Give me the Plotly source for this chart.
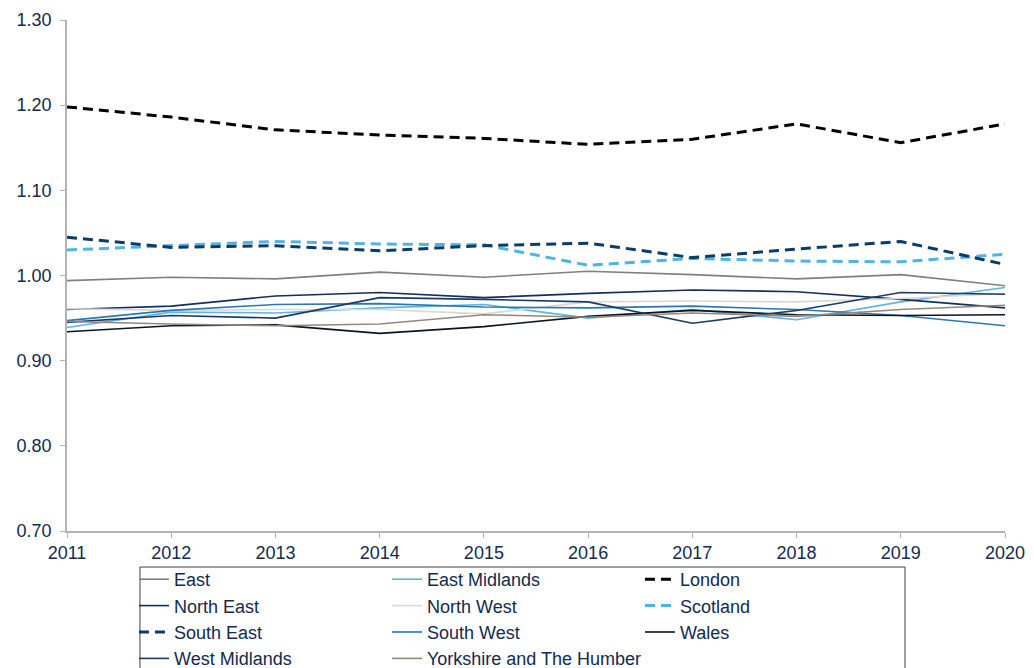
import plotly.graph_objects as go

years = [2011, 2012, 2013, 2014, 2015, 2016, 2017, 2018, 2019, 2020]

east = [0.994, 0.998, 0.996, 1.004, 0.998, 1.005, 1.001, 0.996, 1.001, 0.988]
east_midlands = [0.939, 0.957, 0.956, 0.962, 0.966, 0.950, 0.960, 0.948, 0.969, 0.986]
london = [1.198, 1.186, 1.171, 1.165, 1.161, 1.154, 1.160, 1.178, 1.156, 1.178]
north_east = [0.960, 0.964, 0.976, 0.980, 0.974, 0.979, 0.983, 0.981, 0.972, 0.962]
north_west = [0.961, 0.959, 0.960, 0.960, 0.955, 0.969, 0.970, 0.969, 0.973, 0.979]
scotland = [1.030, 1.035, 1.040, 1.037, 1.036, 1.012, 1.020, 1.017, 1.016, 1.025]
south_east = [1.045, 1.033, 1.035, 1.029, 1.035, 1.038, 1.021, 1.031, 1.040, 1.013]
south_west = [0.947, 0.959, 0.966, 0.967, 0.963, 0.962, 0.964, 0.960, 0.953, 0.941]
wales = [0.934, 0.941, 0.942, 0.932, 0.940, 0.952, 0.959, 0.954, 0.953, 0.954]
west_midlands = [0.945, 0.953, 0.950, 0.974, 0.972, 0.969, 0.944, 0.959, 0.980, 0.978]
yorkshire = [0.946, 0.943, 0.941, 0.943, 0.954, 0.951, 0.956, 0.952, 0.960, 0.965]

series = [
    ("East", east, "#808080", "solid", 1.6),
    ("East Midlands", east_midlands, "#5ab6e6", "solid", 1.6),
    ("London", london, "#000000", "10px,6px", 3),
    ("North East", north_east, "#14305a", "solid", 1.6),
    ("North West", north_west, "#dcd8d3", "solid", 1.6),
    ("Scotland", scotland, "#4fb3e6", "10px,6px", 3),
    ("South East", south_east, "#0b3c68", "10px,6px", 3),
    ("South West", south_west, "#2a78b0", "solid", 1.6),
    ("Wales", wales, "#0a1628", "solid", 1.6),
    ("West Midlands", west_midlands, "#1d3a66", "solid", 1.6),
    ("Yorkshire and The Humber", yorkshire, "#97877b", "solid", 1.6),
]

fig = go.Figure()
for name, vals, color, dash, w in series:
    fig.add_trace(go.Scatter(x=years, y=vals, name=name, mode="lines",
                             line=dict(color=color, dash=dash, width=w)))

txt = "#142b4c"
# page has an 8px body margin; figure is sized to the remaining window
W, H = 1026, 660
left, top, right, bottom = 59, 12, 997, 523
fig.update_layout(
    width=W, height=H,
    margin=dict(l=left, r=W - right, t=top, b=H - bottom, autoexpand=False),
    paper_bgcolor="white", plot_bgcolor="white",
    font=dict(family="Liberation Sans, Arial, sans-serif", size=18, color=txt),
    showlegend=True,
    legend=dict(orientation="h", x=0.0714, xanchor="left", y=-0.0587, yanchor="top",
                entrywidth=208, entrywidthmode="pixels", itemwidth=30,
                borderwidth=0, bgcolor="rgba(0,0,0,0)",
                font=dict(size=18, color=txt), traceorder="normal"),
    shapes=[dict(type="rect", xref="paper", yref="paper",
                 x0=0.0778, x1=0.8934, y0=-0.0705, y1=-0.34,
                 line=dict(color="#404040", width=1), fillcolor="white", layer="below")],
    xaxis=dict(range=[2011, 2020], tickmode="array", tickvals=years,
               ticktext=[str(y) for y in years], showgrid=False, zeroline=False,
               showline=True, linecolor="#b3b3b3", linewidth=1.5,
               ticks="outside", ticklen=5, tickcolor="#b3b3b3",
               tickfont=dict(size=18, color=txt)),
    yaxis=dict(range=[0.70, 1.30], tickmode="linear", tick0=0.7, dtick=0.1,
               tickformat=".2f", showgrid=False, zeroline=False,
               showline=True, linecolor="#b3b3b3", linewidth=1.5,
               ticks="outside", ticklen=5, tickcolor="#b3b3b3",
               ticklabelstandoff=5,
               tickfont=dict(size=18, color=txt)),
)

fig.write_html("out.html")
